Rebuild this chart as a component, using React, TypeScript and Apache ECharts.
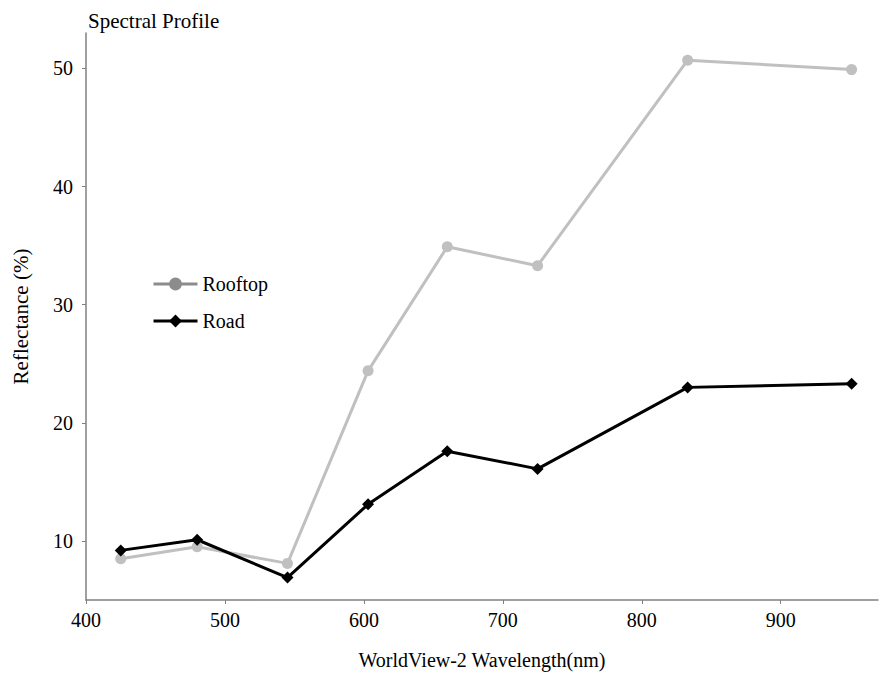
import React, { useEffect, useRef } from "react";
import * as echarts from "echarts";

const wavelengths = [425, 480, 545, 603, 660, 725, 833, 951];
const rooftop = [8.5, 9.5, 8.1, 24.4, 34.9, 33.3, 50.7, 49.9];
const road = [9.2, 10.1, 6.9, 13.1, 17.6, 16.1, 23.0, 23.3];
const xTicks = [400, 500, 600, 700, 800, 900];
const yTicks = [10, 20, 30, 40, 50];

const FONT = "Liberation Serif";

export default function App() {
  const ref = useRef<HTMLDivElement>(null);
  useEffect(() => {
    if (!ref.current) return;
    const chart = echarts.init(ref.current, null, { renderer: "svg" });
    const axisText = { color: "#000", fontFamily: FONT, fontSize: 20 };
    chart.setOption({
      animation: false,
      backgroundColor: "#fff",
      title: {
        text: "Spectral Profile",
        left: 83,
        top: 5,
        textStyle: { color: "#000", fontFamily: FONT, fontSize: 21, fontWeight: "normal" },
      },
      legend: {
        orient: "vertical",
        left: 147,
        top: 269,
        itemWidth: 44,
        itemHeight: 16,
        itemGap: 17,
        textStyle: { color: "#000", fontFamily: FONT, fontSize: 20 },
        data: [
          { name: "Rooftop", itemStyle: { color: "#8c8c8c" }, lineStyle: { color: "#8c8c8c", width: 3 } },
          { name: "Road", lineStyle: { width: 3 } },
        ],
      },
      grid: { left: 86, right: 2, top: 33, bottom: 73, containLabel: false },
      xAxis: {
        type: "value",
        min: 400,
        max: 970,
        name: "WorldView-2 Wavelength(nm)",
        nameLocation: "middle",
        nameGap: 50,
        nameTextStyle: { ...axisText, fontSize: 20 },
        splitLine: { show: false },
        axisLine: { lineStyle: { color: "#808080", width: 1.5 } },
        axisTick: { length: 4, lineStyle: { color: "#808080" }, customValues: xTicks },
        axisLabel: { ...axisText, margin: 10, customValues: xTicks },
      },
      yAxis: {
        type: "value",
        min: 5,
        max: 53,
        name: "Reflectance (%)",
        nameLocation: "middle",
        nameRotate: 90,
        nameGap: 55,
        nameTextStyle: { ...axisText, fontSize: 21 },
        splitLine: { show: false },
        axisLine: { show: true, lineStyle: { color: "#808080", width: 1.5 } },
        axisTick: { show: true, length: 4, lineStyle: { color: "#808080" }, customValues: yTicks },
        axisLabel: { ...axisText, margin: 13, customValues: yTicks },
      },
      series: [
        {
          name: "Rooftop",
          type: "line",
          data: wavelengths.map((w, i) => [w, rooftop[i]]),
          symbol: "circle",
          symbolSize: 11,
          lineStyle: { color: "#c0c0c0", width: 3 },
          itemStyle: { color: "#c0c0c0" },
        },
        {
          name: "Road",
          type: "line",
          data: wavelengths.map((w, i) => [w, road[i]]),
          symbol: "diamond",
          symbolSize: 12,
          lineStyle: { color: "#000", width: 3 },
          itemStyle: { color: "#000" },
        },
      ],
    });
    return () => chart.dispose();
  }, []);
  return <div ref={ref} style={{ width: 880, height: 675, position: "absolute", left: 0, top: 0 }} />;
}
